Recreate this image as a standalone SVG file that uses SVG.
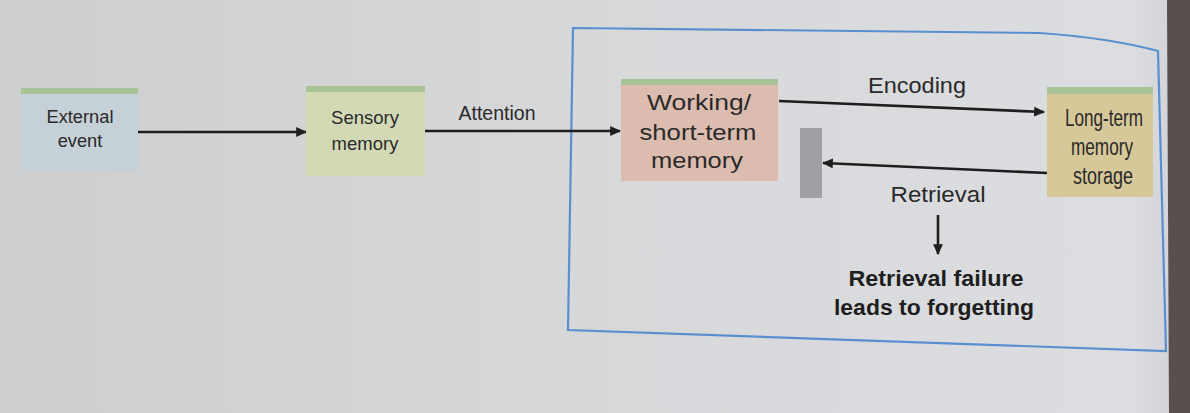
<svg xmlns="http://www.w3.org/2000/svg" width="1190" height="413" viewBox="0 0 1190 413">
<defs>
<linearGradient id="page" x1="0" y1="0" x2="1" y2="0">
<stop offset="0" stop-color="#cdcecf"/>
<stop offset="0.5" stop-color="#d7d8da"/>
<stop offset="0.95" stop-color="#dcdde0"/>
<stop offset="1" stop-color="#cfd0d3"/>
</linearGradient>
<marker id="ah" viewBox="0 0 10 10" refX="9" refY="5" markerWidth="4.2" markerHeight="4.2" orient="auto" markerUnits="strokeWidth">
<path d="M0,0.5 L10,5 L0,9.5 z" fill="#1e1e1e"/>
</marker>
<style>
.lbl{font-family:"Liberation Sans","Open Sans",sans-serif;fill:#2a2a2a;text-anchor:middle}
.b{font-weight:bold;fill:#1e1e1e}
.strip{fill:#a8c396}
.con{stroke:#1e1e1e;stroke-width:2.6;fill:none;marker-end:url(#ah)}
</style>
</defs>
<rect x="0" y="0" width="1190" height="413" fill="url(#page)"/>
<path d="M1167,0 L1190,0 L1190,413 L1169,413 Z" fill="#57504f"/>
<g id="frame">
<path d="M573,28 L1040,33 Q1110,38 1158,51 L1166,351 L568,330 Z" fill="none" stroke="#5a8fcf" stroke-width="2.2"/>
</g>
<g id="connectors">
<line class="con" x1="136" y1="132" x2="306" y2="132"/>
<line class="con" x1="424" y1="131" x2="620" y2="131"/>
<line class="con" x1="779" y1="101" x2="1044" y2="112"/>
<line class="con" x1="1047" y1="173" x2="823" y2="163"/>
<line class="con" x1="938" y1="215" x2="938" y2="254"/>
<text class="lbl" x="497" y="120" font-size="19.5">Attention</text>
<text class="lbl" x="917" y="93" font-size="22" textLength="98" lengthAdjust="spacingAndGlyphs">Encoding</text>
<text class="lbl" x="938" y="202" font-size="22" textLength="95" lengthAdjust="spacingAndGlyphs">Retrieval</text>
</g>
<g id="external">
<rect x="21" y="88" width="117" height="83" fill="#c6d0d7"/>
<rect class="strip" x="21" y="88" width="117" height="6"/>
<text class="lbl" x="80" y="123" font-size="18.3">External</text>
<text class="lbl" x="80" y="147" font-size="18.3">event</text>
</g>
<g id="sensory">
<rect x="306" y="86" width="119" height="90" fill="#d3d9b5"/>
<rect class="strip" x="306" y="86" width="119" height="6"/>
<text class="lbl" x="365" y="124" font-size="18.5">Sensory</text>
<text class="lbl" x="365" y="150" font-size="18.5">memory</text>
</g>
<g id="working">
<rect x="621" y="79" width="157" height="102" fill="#dcbcaf"/>
<rect class="strip" x="621" y="79" width="157" height="6"/>
<text class="lbl" x="699" y="110" font-size="22.5" textLength="104" lengthAdjust="spacingAndGlyphs">Working/</text>
<text class="lbl" x="698" y="140" font-size="22.5" textLength="117" lengthAdjust="spacingAndGlyphs">short-term</text>
<text class="lbl" x="697" y="168" font-size="22.5" textLength="92" lengthAdjust="spacingAndGlyphs">memory</text>
</g>
<g id="block">
<rect x="800" y="128" width="22" height="70" fill="#9fa0a5"/>
</g>
<g id="longterm">
<rect x="1047" y="87" width="106" height="110" fill="#d6c899"/>
<rect class="strip" x="1047" y="87" width="106" height="7"/>
<text class="lbl" x="1104" y="126" font-size="23" textLength="78" lengthAdjust="spacingAndGlyphs">Long-term</text>
<text class="lbl" x="1102" y="155" font-size="23" textLength="62" lengthAdjust="spacingAndGlyphs">memory</text>
<text class="lbl" x="1103" y="184" font-size="23" textLength="60" lengthAdjust="spacingAndGlyphs">storage</text>
</g>
<g id="failure">
<text class="lbl b" x="936" y="286" font-size="22" textLength="175" lengthAdjust="spacingAndGlyphs">Retrieval failure</text>
<text class="lbl b" x="934" y="315" font-size="22" textLength="200" lengthAdjust="spacingAndGlyphs">leads to forgetting</text>
</g>
</svg>
